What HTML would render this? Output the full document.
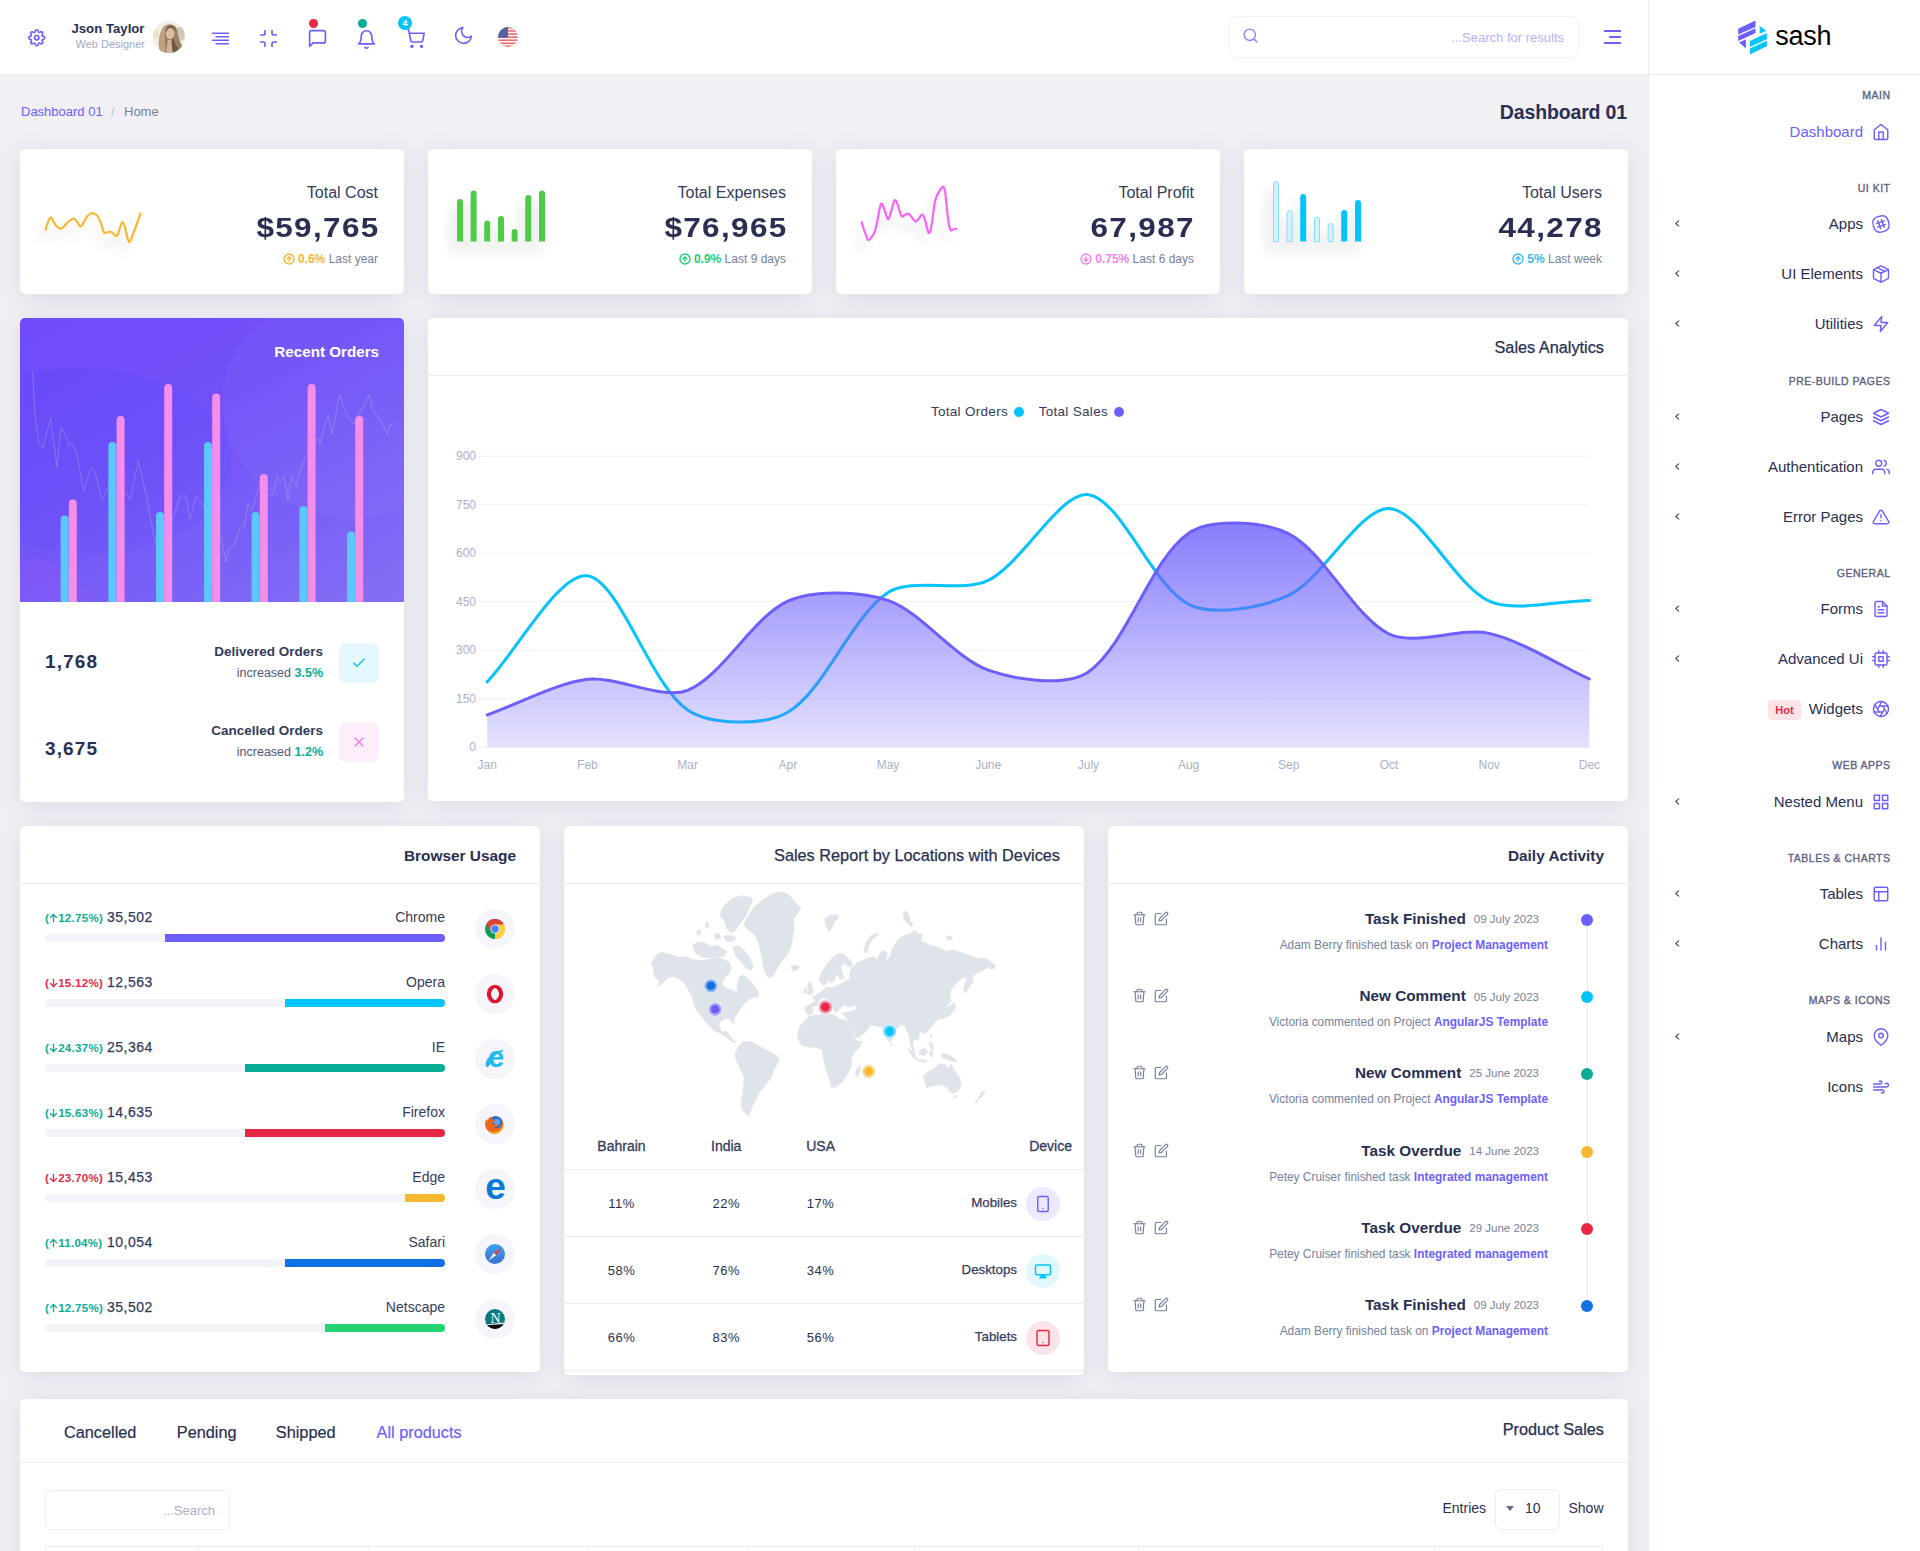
<!DOCTYPE html>
<html lang="en">
<head>
<meta charset="utf-8">
<title>Sash – Dashboard 01</title>
<style>
*{box-sizing:border-box;margin:0;padding:0}
html,body{width:1920px;height:1551px;overflow:hidden}
body{background:#f0f0f5;font-family:"Liberation Sans",sans-serif;color:#282f53;position:relative;font-size:14px}
.abs{position:absolute}
.t{position:absolute;white-space:nowrap;line-height:1}
.r{text-align:right}
svg{display:block;overflow:visible}
.ic{position:absolute;fill:none;stroke:#6c5ffc;stroke-width:2;stroke-linecap:round;stroke-linejoin:round}
/* header */
#hdr{position:absolute;left:0;top:0;width:1648px;height:75px;background:#fff;border-bottom:1px solid #e9edf4}
/* sidebar */
#side{position:absolute;left:1648px;top:0;width:272px;height:1551px;background:#fff;border-left:1px solid #e9edf4}
#side .logo{position:absolute;left:0;top:0;width:271px;height:75px;border-bottom:1px solid #e9edf4}
.cat{position:absolute;right:30px;font-size:10.500px;font-weight:normal;-webkit-text-stroke:.350px #5a5f80;letter-spacing:.500px;margin-right:-.500px;color:#5a5f80;white-space:nowrap;line-height:1}
.mi{position:absolute;right:57px;font-size:15px;color:#282f53;white-space:nowrap;line-height:1}
.chev{position:absolute;left:25.500px;width:4.500px;height:7px;margin-top:1px;fill:none;stroke:#3f4865;stroke-width:1.400;stroke-linecap:round;stroke-linejoin:round}
/* cards */
.card{position:absolute;background:#fff;border-radius:5px;box-shadow:0 4px 25px 0 rgba(110,110,150,.16)}
.ch{position:absolute;left:0;right:0;top:0;height:58px;border-bottom:1px solid #e9edf4}
.ct{position:absolute;right:24px;top:21.500px;font-size:15.400px;font-weight:bold;color:#282f53;white-space:nowrap;line-height:1}
.st-t{font-size:16px;color:#343b5c;margin-top:1.500px}
.st-v{font-size:28px;font-weight:bold;color:#282f53;letter-spacing:1.200px;margin-right:-1.200px;margin-top:-1px;transform:scaleX(1.124);transform-origin:right center}
.st-n{font-size:12px;color:#74829c}
.ro-v{font-size:19px;font-weight:bold;color:#282f53;letter-spacing:1.100px;margin-top:1px}
.ro-l{font-size:13.500px;font-weight:bold;color:#343b5c;margin-top:.700px}
.ro-s{font-size:12.5px;color:#4f5875}
.ro-s b{color:#09ad95}
.med{font-weight:normal;-webkit-text-stroke:.250px #282f53;font-size:16.300px !important;margin-top:-1px}
.bu-p{font-size:11.500px;font-weight:bold;letter-spacing:.300px;margin-top:.500px}
.bu-v{font-size:14px;margin-top:-1px;color:#343b5c;letter-spacing:.500px;-webkit-text-stroke:.25px #343b5c}
.bu-n{font-size:14px;color:#343b5c;margin-top:-1px}
.th{font-size:14px;color:#343b5c;-webkit-text-stroke:.3px #343b5c}
.td{font-size:13px;color:#282f53;letter-spacing:.5px}
.tn{margin-top:.800px;font-size:13.300px;color:#343b5c;-webkit-text-stroke:.25px #343b5c}
.da-t{font-size:15.300px;font-weight:bold;color:#282f53;position:relative;top:1px}
.da-d{font-size:11.500px;color:#74829c;margin-left:8px;position:relative;top:.500px}
.da-s{font-size:11.900px;color:#74829c;margin-top:1.800px}
.da-s b{color:#6c5ffc}
</style>
</head>
<body>

<!-- ================= HEADER ================= -->
<div id="hdr">
  <!-- settings gear -->
  <svg class="ic" style="left:28px;top:28.700px;width:17.500px;height:17.500px;stroke-width:2.200" viewBox="0 0 24 24"><circle cx="12" cy="12" r="3"/><path d="M19.4 15a1.65 1.65 0 0 0 .33 1.82l.06.06a2 2 0 0 1 0 2.83 2 2 0 0 1-2.83 0l-.06-.06a1.65 1.65 0 0 0-1.82-.33 1.65 1.65 0 0 0-1 1.51V21a2 2 0 0 1-2 2 2 2 0 0 1-2-2v-.09A1.65 1.65 0 0 0 9 19.4a1.65 1.65 0 0 0-1.82.33l-.06.06a2 2 0 0 1-2.83 0 2 2 0 0 1 0-2.83l.06-.06a1.65 1.65 0 0 0 .33-1.82 1.65 1.65 0 0 0-1.51-1H3a2 2 0 0 1-2-2 2 2 0 0 1 2-2h.09A1.65 1.65 0 0 0 4.6 9a1.65 1.65 0 0 0-.33-1.82l-.06-.06a2 2 0 0 1 0-2.83 2 2 0 0 1 2.83 0l.06.06a1.65 1.65 0 0 0 1.82.33H9a1.65 1.65 0 0 0 1-1.51V3a2 2 0 0 1 2-2 2 2 0 0 1 2 2v.09a1.65 1.65 0 0 0 1 1.51 1.65 1.65 0 0 0 1.82-.33l.06-.06a2 2 0 0 1 2.83 0 2 2 0 0 1 0 2.83l-.06.06a1.65 1.65 0 0 0-.33 1.82V9a1.65 1.65 0 0 0 1.51 1H21a2 2 0 0 1 2 2 2 2 0 0 1-2 2h-.09a1.65 1.65 0 0 0-1.51 1z"/></svg>
  <!-- user -->
  <div class="t r" style="left:40px;width:104.500px;top:21.500px;font-size:13.200px;font-weight:bold;color:#282f53">Json Taylor</div>
  <div class="t r" style="left:40px;width:105px;top:39px;font-size:11px;color:#a1a9c0">Web Designer</div>
  <div class="abs" id="avatar" style="left:153px;top:21px;width:32px;height:32px;border-radius:50%;overflow:hidden;background:#f2eee6">
    <svg width="32" height="32" viewBox="0 0 32 32"><rect width="32" height="32" fill="#f2eee6"/><ellipse cx="27" cy="13" rx="5" ry="7" fill="#cfc7b6"/><ellipse cx="2" cy="13" rx="4" ry="5" fill="#dfe5b5" opacity=".7"/><path d="M9 32C5 28 5 20 7.500 12 9 6 13 3.500 17 3.500c4.500 0 7 3 7.500 7 .5 4 1.500 9 4.500 14 1 2 0 5-2 7.500z" fill="#9a8065"/><path d="M9 32C5 28 5 20 7.500 12 9 6 12 4 14 4c-2 4-2.500 10-2 16 .3 4 .5 8 0 12z" fill="#bda280"/><path d="M13 32c.5-5 1.500-9 2-13h4.500c0 4 1 8 3 13z" fill="#d2b29b"/><ellipse cx="17.200" cy="12.500" rx="4.300" ry="5.800" fill="#dcbca5"/><path d="M12.500 12c0-5 2.500-7.500 5.500-7.500 2.500 0 4.500 2 4.500 6-1.500-2-3-3.500-5-3.500-2 0-3.500 2-5 5z" fill="#7d6450"/><path d="M20 17c1.500 3 2 7 5 10 1 2-1 4-2 5h-3c-1-4-1.500-9-1.500-12z" fill="#6f5846"/></svg>
  </div>
  <!-- align-right -->
  <svg class="ic" style="left:209.500px;top:28.400px;width:21px;height:21px;stroke-width:1.900" viewBox="0 0 24 24"><line x1="21" y1="10" x2="7" y2="10"/><line x1="21" y1="6" x2="3" y2="6"/><line x1="21" y1="14" x2="3" y2="14"/><line x1="21" y1="18" x2="7" y2="18"/></svg>
  <!-- minimize -->
  <svg class="ic" style="left:258px;top:28.400px;width:21px;height:21px;stroke-width:1.900" viewBox="0 0 24 24"><path d="M8 3v3a2 2 0 0 1-2 2H3m18 0h-3a2 2 0 0 1-2-2V3m0 18v-3a2 2 0 0 1 2-2h3M3 16h3a2 2 0 0 1 2 2v3"/></svg>
  <!-- message -->
  <svg class="ic" style="left:306.800px;top:28.300px;width:21px;height:21px;stroke-width:1.900" viewBox="0 0 24 24"><path d="M21 15a2 2 0 0 1-2 2H7l-4 4V5a2 2 0 0 1 2-2h14a2 2 0 0 1 2 2z"/></svg>
  <div class="abs" style="left:309px;top:19px;width:9px;height:9px;border-radius:50%;background:#e82646"></div>
  <!-- bell -->
  <svg class="ic" style="left:355.500px;top:28.500px;width:21px;height:21px;stroke-width:1.900" viewBox="0 0 24 24"><path d="M18 8A6 6 0 0 0 6 8c0 7-3 9-3 9h18s-3-2-3-9"/><path d="M13.730 21a2 2 0 0 1-3.460 0"/></svg>
  <div class="abs" style="left:358px;top:19px;width:9px;height:9px;border-radius:50%;background:#09ad95"></div>
  <!-- cart -->
  <svg class="ic" style="left:403.500px;top:28px;width:21px;height:21px;stroke-width:1.900" viewBox="0 0 24 24"><circle cx="9" cy="21" r="1"/><circle cx="20" cy="21" r="1"/><path d="M1 1h4l2.680 13.390a2 2 0 0 0 2 1.610h9.720a2 2 0 0 0 2-1.610L23 6H6"/></svg>
  <div class="abs" style="left:398px;top:16px;width:14px;height:14px;border-radius:50%;background:#05c3fb;color:#fff;font-size:9px;font-weight:bold;text-align:center;line-height:14px">4</div>
  <!-- moon -->
  <svg class="ic" style="left:453.300px;top:25px;width:21px;height:21px;stroke-width:1.900" viewBox="0 0 24 24"><path d="M21 12.790A9 9 0 1 1 11.210 3 7 7 0 0 0 21 12.790z"/></svg>
  <!-- flag -->
  <div class="abs" style="left:498px;top:27px;width:20px;height:20px;border-radius:50%;overflow:hidden">
    <svg width="20" height="20" viewBox="0 0 20 20"><rect width="20" height="20" fill="#fff"/><g fill="#f2666d"><rect y="0" width="20" height="1.6"/><rect y="3.100" width="20" height="1.600"/><rect y="6.200" width="20" height="1.600"/><rect y="9.300" width="20" height="1.600"/><rect y="12.400" width="20" height="1.600"/><rect y="15.500" width="20" height="1.600"/><rect y="18.500" width="20" height="1.600"/></g><rect width="10" height="10.800" fill="#5563a4"/></svg>
  </div>
  <!-- search -->
  <div class="abs" style="left:1229px;top:16px;width:350px;height:42px;border:1px solid #eef1fa;border-radius:7px;background:#fff"></div>
  <svg class="ic" style="left:1241.900px;top:26.900px;width:17px;height:17px;stroke:#8f86fb;stroke-width:2" viewBox="0 0 24 24"><circle cx="11" cy="11" r="8"/><line x1="21" y1="21" x2="16.650" y2="16.650"/></svg>
  <div class="t r" style="left:1364px;width:200px;top:31px;font-size:13px;color:#b5b0fa">...Search for results</div>
  <!-- hamburger -->
  <div class="abs" style="left:1604px;top:30px;width:17px;height:2px;background:#6c5ffc"></div>
  <div class="abs" style="left:1609px;top:36px;width:12px;height:2px;background:#6c5ffc"></div>
  <div class="abs" style="left:1604px;top:42px;width:17px;height:2px;background:#6c5ffc"></div>
</div>

<!-- ================= SIDEBAR ================= -->
<div id="side">
  <div class="logo">
    <svg class="abs" style="left:88px;top:19px" width="32" height="38" viewBox="0 0 32 38"><g fill="#6c5ffc"><polygon points="1.200,9.700 18.500,1.500 18.500,7.900 1.200,15.500"/><polygon points="1.200,17 18.500,9.200 18.500,14.100 8.900,18.400 1.200,22.100"/><polygon points="2.100,23.600 8.900,20.300 8.900,29.500"/></g><g fill="#05c3fb"><polygon points="22.700,7.100 29.400,11.700 22.700,14.800"/><polygon points="12.900,21.900 29.800,14.100 29.800,20.300 12.900,28.100"/><polygon points="12.900,29.500 29.800,21.700 29.800,27.200 12.900,35.600"/></g></svg>
    <div class="t" style="left:126.300px;top:22.500px;font-size:27px;letter-spacing:-.300px;color:#000">sash</div>
  </div>
  <div class="cat" style="top:90px">MAIN</div>
  <div class="mi" style="top:124px;color:#6c5ffc">Dashboard</div>
  <svg class="ic" style="left:222.500px;top:122.5px;width:18px;height:18px;stroke-width:1.9" viewBox="0 0 24 24"><path d="M3 9l9-7 9 7v11a2 2 0 0 1-2 2H5a2 2 0 0 1-2-2z"/><polyline points="9 22 9 12 15 12 15 22"/></svg>
  <div class="cat" style="top:183px">UI KIT</div>
  <div class="mi" style="top:216px;color:#282f53">Apps</div>
  <svg class="ic" style="left:222.500px;top:214.5px;width:18px;height:18px;stroke-width:1.9" viewBox="0 0 24 24"><path d="M22.080 9C19.810 1.410 16.540-.350 9 1.920S-.350 7.460 1.920 15 7.460 24.350 15 22.080 24.350 16.540 22.080 9z"/><line x1="12.570" y1="5.990" x2="16.150" y2="16.390"/><line x1="7.850" y1="7.610" x2="11.430" y2="18.010"/><line x1="16.390" y1="7.850" x2="5.990" y2="11.430"/><line x1="18.010" y1="12.570" x2="7.610" y2="16.150"/></svg>
  <svg class="chev" style="top:219px" viewBox="0 0 6 8"><polyline points="5,0.500 1,4 5,7.500"/></svg>
  <div class="mi" style="top:266px;color:#282f53">UI Elements</div>
  <svg class="ic" style="left:222.500px;top:264.5px;width:18px;height:18px;stroke-width:1.9" viewBox="0 0 24 24"><path d="M12.890 1.450l8 4A2 2 0 0 1 22 7.240v9.530a2 2 0 0 1-1.110 1.790l-8 4a2 2 0 0 1-1.790 0l-8-4a2 2 0 0 1-1.100-1.800V7.240a2 2 0 0 1 1.110-1.790l8-4a2 2 0 0 1 1.780 0z"/><polyline points="2.320 6.160 12 11 21.680 6.160"/><line x1="12" y1="22.760" x2="12" y2="11"/><line x1="7" y1="3.500" x2="17" y2="8.500"/></svg>
  <svg class="chev" style="top:269px" viewBox="0 0 6 8"><polyline points="5,0.500 1,4 5,7.500"/></svg>
  <div class="mi" style="top:316px;color:#282f53">Utilities</div>
  <svg class="ic" style="left:222.500px;top:314.5px;width:18px;height:18px;stroke-width:1.9" viewBox="0 0 24 24"><polygon points="13 2 3 14 12 14 11 22 21 10 12 10 13 2"/></svg>
  <svg class="chev" style="top:319px" viewBox="0 0 6 8"><polyline points="5,0.500 1,4 5,7.500"/></svg>
  <div class="cat" style="top:376px">PRE-BUILD PAGES</div>
  <div class="mi" style="top:409px;color:#282f53">Pages</div>
  <svg class="ic" style="left:222.500px;top:407.5px;width:18px;height:18px;stroke-width:1.9" viewBox="0 0 24 24"><polygon points="12 2 2 7 12 12 22 7 12 2"/><polyline points="2 17 12 22 22 17"/><polyline points="2 12 12 17 22 12"/></svg>
  <svg class="chev" style="top:412px" viewBox="0 0 6 8"><polyline points="5,0.500 1,4 5,7.500"/></svg>
  <div class="mi" style="top:459px;color:#282f53">Authentication</div>
  <svg class="ic" style="left:222.500px;top:457.5px;width:18px;height:18px;stroke-width:1.9" viewBox="0 0 24 24"><path d="M17 21v-2a4 4 0 0 0-4-4H5a4 4 0 0 0-4 4v2"/><circle cx="9" cy="7" r="4"/><path d="M23 21v-2a4 4 0 0 0-3-3.870"/><path d="M16 3.130a4 4 0 0 1 0 7.750"/></svg>
  <svg class="chev" style="top:462px" viewBox="0 0 6 8"><polyline points="5,0.500 1,4 5,7.500"/></svg>
  <div class="mi" style="top:509px;color:#282f53">Error Pages</div>
  <svg class="ic" style="left:222.500px;top:507.5px;width:18px;height:18px;stroke-width:1.9" viewBox="0 0 24 24"><path d="M10.290 3.860L1.820 18a2 2 0 0 0 1.710 3h16.940a2 2 0 0 0 1.710-3L13.710 3.860a2 2 0 0 0-3.420 0z"/><line x1="12" y1="9" x2="12" y2="13"/><line x1="12" y1="17" x2="12" y2="17"/></svg>
  <svg class="chev" style="top:512px" viewBox="0 0 6 8"><polyline points="5,0.500 1,4 5,7.500"/></svg>
  <div class="cat" style="top:568px">GENERAL</div>
  <div class="mi" style="top:601px;color:#282f53">Forms</div>
  <svg class="ic" style="left:222.500px;top:599.5px;width:18px;height:18px;stroke-width:1.9" viewBox="0 0 24 24"><path d="M14 2H6a2 2 0 0 0-2 2v16a2 2 0 0 0 2 2h12a2 2 0 0 0 2-2V8z"/><polyline points="14 2 14 8 20 8"/><line x1="16" y1="13" x2="8" y2="13"/><line x1="16" y1="17" x2="8" y2="17"/><polyline points="10 9 9 9 8 9"/></svg>
  <svg class="chev" style="top:604px" viewBox="0 0 6 8"><polyline points="5,0.500 1,4 5,7.500"/></svg>
  <div class="mi" style="top:651px;color:#282f53">Advanced Ui</div>
  <svg class="ic" style="left:222.500px;top:649.5px;width:18px;height:18px;stroke-width:1.9" viewBox="0 0 24 24"><rect x="4" y="4" width="16" height="16" rx="2" ry="2"/><rect x="9" y="9" width="6" height="6"/><line x1="9" y1="1" x2="9" y2="4"/><line x1="15" y1="1" x2="15" y2="4"/><line x1="9" y1="20" x2="9" y2="23"/><line x1="15" y1="20" x2="15" y2="23"/><line x1="20" y1="9" x2="23" y2="9"/><line x1="20" y1="14" x2="23" y2="14"/><line x1="1" y1="9" x2="4" y2="9"/><line x1="1" y1="14" x2="4" y2="14"/></svg>
  <svg class="chev" style="top:654px" viewBox="0 0 6 8"><polyline points="5,0.500 1,4 5,7.500"/></svg>
  <div class="mi" style="top:701px;color:#282f53">Widgets</div>
  <svg class="ic" style="left:222.500px;top:699.5px;width:18px;height:18px;stroke-width:1.9" viewBox="0 0 24 24"><circle cx="12" cy="12" r="10"/><line x1="14.310" y1="8" x2="20.050" y2="17.940"/><line x1="9.690" y1="8" x2="21.170" y2="8"/><line x1="7.380" y1="12" x2="13.120" y2="2.060"/><line x1="9.690" y1="16" x2="3.950" y2="6.060"/><line x1="14.310" y1="16" x2="2.830" y2="16"/><line x1="16.620" y1="12" x2="10.880" y2="21.940"/></svg>
  <div class="abs" style="left:119px;top:700px;width:33px;height:20px;border-radius:4px;background:#fce3e8;color:#e82646;font-size:11px;font-weight:bold;text-align:center;line-height:20px">Hot</div>
  <div class="cat" style="top:760px">WEB APPS</div>
  <div class="mi" style="top:794px;color:#282f53">Nested Menu</div>
  <svg class="ic" style="left:222.500px;top:792.5px;width:18px;height:18px;stroke-width:1.9" viewBox="0 0 24 24"><rect x="3" y="3" width="7" height="7"/><rect x="14" y="3" width="7" height="7"/><rect x="14" y="14" width="7" height="7"/><rect x="3" y="14" width="7" height="7"/></svg>
  <svg class="chev" style="top:797px" viewBox="0 0 6 8"><polyline points="5,0.500 1,4 5,7.500"/></svg>
  <div class="cat" style="top:853px">TABLES &amp; CHARTS</div>
  <div class="mi" style="top:886px;color:#282f53">Tables</div>
  <svg class="ic" style="left:222.500px;top:884.5px;width:18px;height:18px;stroke-width:1.9" viewBox="0 0 24 24"><rect x="3" y="3" width="18" height="18" rx="2" ry="2"/><line x1="3" y1="9" x2="21" y2="9"/><line x1="9" y1="21" x2="9" y2="9"/></svg>
  <svg class="chev" style="top:889px" viewBox="0 0 6 8"><polyline points="5,0.500 1,4 5,7.500"/></svg>
  <div class="mi" style="top:936px;color:#282f53">Charts</div>
  <svg class="ic" style="left:222.500px;top:934.5px;width:18px;height:18px;stroke-width:1.9" viewBox="0 0 24 24"><line x1="18" y1="20" x2="18" y2="10"/><line x1="12" y1="20" x2="12" y2="4"/><line x1="6" y1="20" x2="6" y2="14"/></svg>
  <svg class="chev" style="top:939px" viewBox="0 0 6 8"><polyline points="5,0.500 1,4 5,7.500"/></svg>
  <div class="cat" style="top:995px">MAPS &amp; ICONS</div>
  <div class="mi" style="top:1029px;color:#282f53">Maps</div>
  <svg class="ic" style="left:222.500px;top:1027.5px;width:18px;height:18px;stroke-width:1.9" viewBox="0 0 24 24"><path d="M21 10c0 7-9 13-9 13s-9-6-9-13a9 9 0 0 1 18 0z"/><circle cx="12" cy="10" r="3"/></svg>
  <svg class="chev" style="top:1032px" viewBox="0 0 6 8"><polyline points="5,0.500 1,4 5,7.500"/></svg>
  <div class="mi" style="top:1079px;color:#282f53">Icons</div>
  <svg class="ic" style="left:222.500px;top:1077.5px;width:18px;height:18px;stroke-width:1.9" viewBox="0 0 24 24"><path d="M9.590 4.590A2 2 0 1 1 11 8H2m10.590 11.410A2 2 0 1 0 14 16H2m15.730-8.270A2.500 2.500 0 1 1 19.500 12H2"/></svg>
</div>

<!-- ================= PAGE HEADER ================= -->
<div id="pghdr">
  <div class="t" style="left:21px;top:105px;font-size:13px;color:#6c5ffc">Dashboard 01</div>
  <div class="t" style="left:111px;top:105px;font-size:13px;color:#b6bfd4">/</div>
  <div class="t" style="left:124px;top:105px;font-size:13px;color:#74829c">Home</div>
  <div class="t r" style="left:1400px;width:227px;top:103px;font-size:19.500px;letter-spacing:-.150px;font-weight:bold;color:#282f53">Dashboard 01</div>
</div>

<!-- ================= ROW 1 ================= -->
<div class="card" id="c1" style="left:20px;top:149px;width:384px;height:145px">
  <div class="t r st-t" style="right:26px;top:34px">Total Cost</div>
  <div class="t r st-v" style="right:26px;top:66px">$59,765</div>
  <div class="t r st-n" style="right:26px;top:104px"><svg class="ic" style="position:static;display:inline-block;vertical-align:-2px;width:12px;height:12px;stroke:#f7b731;stroke-width:2.700;margin-right:3px" viewBox="0 0 24 24"><circle cx="12" cy="12" r="10"/><g><polyline points="16 12 12 8 8 12"/><line x1="12" y1="16" x2="12" y2="8"/></g></svg><span style="color:#f7b731;font-weight:bold">0.6%</span> Last year</div>
  <svg class="abs" style="left:0;top:0;filter:drop-shadow(-6px 10px 5px rgba(0,0,0,.11))" width="150" height="145"><path d="M25.7,80.7C26.2,79.0 26.3,77.6 27.6,74.4C28.9,71.2 29.0,69.0 30.6,68.7C32.3,68.3 32.0,70.7 33.7,73.1C35.4,75.5 34.9,76.0 37.1,77.7C39.2,79.3 39.3,80.2 41.8,79.3C44.3,78.4 44.2,76.6 46.6,74.4C48.9,72.2 48.6,72.3 50.6,71.1C52.6,69.8 52.2,69.3 54.0,69.8C55.8,70.4 55.7,71.1 57.4,73.1C59.1,75.1 58.8,77.1 60.4,77.3C62.1,77.5 61.8,76.3 63.5,73.8C65.2,71.2 64.9,70.1 66.9,67.7C68.9,65.2 69.4,65.5 70.9,64.6C72.5,63.7 71.0,63.7 72.6,64.3C74.3,64.8 75.0,64.3 77.0,66.6C79.1,69.0 78.8,69.2 80.4,73.1C82.0,77.0 82.0,78.3 83.1,81.2C84.2,84.1 83.2,83.4 84.5,83.9C85.7,84.4 86.2,83.4 87.9,83.1C89.5,82.8 89.1,82.3 90.6,82.7C92.0,83.1 91.8,83.5 93.3,84.6C94.7,85.7 94.7,87.0 96.0,87.0C97.2,87.0 96.8,87.4 98.0,84.6C99.3,81.8 99.5,79.4 100.7,76.5C102.0,73.5 101.7,73.1 102.8,73.4C103.8,73.8 103.7,74.3 104.8,77.8C105.9,81.3 105.8,82.8 106.8,86.6C107.8,90.4 107.6,90.6 108.5,92.0C109.4,93.5 109.0,93.8 110.2,92.0C111.4,90.2 111.1,90.0 112.9,85.3C114.7,80.6 115.0,80.0 117.0,74.4C119.0,68.8 119.6,67.0 120.5,64.3" fill="none" stroke="#f7b731" stroke-width="2.2" stroke-linecap="round" stroke-linejoin="round"/></svg>
</div>
<div class="card" id="c2" style="left:428px;top:149px;width:384px;height:145px">
  <div class="t r st-t" style="right:26px;top:34px">Total Expenses</div>
  <div class="t r st-v" style="right:26px;top:66px">$76,965</div>
  <div class="t r st-n" style="right:26px;top:104px"><svg class="ic" style="position:static;display:inline-block;vertical-align:-2px;width:12px;height:12px;stroke:#1fcd7a;stroke-width:2.700;margin-right:3px" viewBox="0 0 24 24"><circle cx="12" cy="12" r="10"/><g><polyline points="16 12 12 8 8 12"/><line x1="12" y1="16" x2="12" y2="8"/></g></svg><span style="color:#1fcd7a;font-weight:bold">0.9%</span> Last 9 days</div>
  <svg class="abs" style="left:0;top:0;filter:drop-shadow(-5px 10px 6px rgba(0,0,0,.12))" width="150" height="145"><path d="M29.0,92.6V53.0a3,3 0 0 1 6,0V92.6z" fill="#4ecc48"/><path d="M42.6,92.6V44.6a3,3 0 0 1 6,0V92.6z" fill="#4ecc48"/><path d="M56.2,92.6V74.6a3,3 0 0 1 6,0V92.6z" fill="#4ecc48"/><path d="M70.0,92.6V70.0a3,3 0 0 1 6,0V92.6z" fill="#4ecc48"/><path d="M83.6,92.6V83.0a3,3 0 0 1 6,0V92.6z" fill="#4ecc48"/><path d="M97.2,92.6V49.0a3,3 0 0 1 6,0V92.6z" fill="#4ecc48"/><path d="M111.0,92.6V44.6a3,3 0 0 1 6,0V92.6z" fill="#4ecc48"/></svg>
</div>
<div class="card" id="c3" style="left:836px;top:149px;width:384px;height:145px">
  <div class="t r st-t" style="right:26px;top:34px">Total Profit</div>
  <div class="t r st-v" style="right:26px;top:66px">67,987</div>
  <div class="t r st-n" style="right:26px;top:104px"><svg class="ic" style="position:static;display:inline-block;vertical-align:-2px;width:12px;height:12px;stroke:#f77ff0;stroke-width:2.700;margin-right:3px" viewBox="0 0 24 24"><circle cx="12" cy="12" r="10"/><g transform="rotate(180 12 12)"><polyline points="16 12 12 8 8 12"/><line x1="12" y1="16" x2="12" y2="8"/></g></svg><span style="color:#f77ff0;font-weight:bold">0.75%</span> Last 6 days</div>
  <svg class="abs" style="left:0;top:0;filter:drop-shadow(-6px 10px 5px rgba(0,0,0,.11))" width="150" height="145"><path d="M25.7,73.1C26.2,74.8 26.4,75.8 27.6,79.5C28.8,83.2 29.0,83.9 30.3,86.9C31.6,90.0 30.9,90.6 32.3,90.9C33.8,91.1 33.9,90.4 35.7,87.9C37.5,85.5 37.5,86.5 39.1,81.5C40.7,76.6 40.6,75.5 41.8,69.3C43.1,63.2 42.8,62.4 43.9,58.5C44.9,54.6 44.6,54.1 45.9,54.8C47.1,55.5 47.3,57.9 48.6,61.2C49.9,64.5 49.6,65.0 50.6,67.3C51.7,69.6 51.4,70.8 52.5,69.9C53.6,69.0 53.4,68.0 54.7,63.9C56.0,59.8 56.2,57.9 57.4,54.4C58.6,51.0 58.2,50.9 59.3,51.1C60.4,51.2 60.2,51.7 61.5,55.1C62.8,58.5 62.9,60.6 64.2,63.9C65.4,67.2 64.9,66.9 66.2,67.4C67.5,68.0 67.3,66.6 68.9,65.9C70.5,65.3 70.7,64.6 72.3,64.9C73.9,65.3 73.6,65.8 75.0,67.3C76.4,68.8 76.4,69.3 77.7,70.7C79.1,72.0 78.6,72.7 80.1,72.4C81.5,72.0 81.5,71.1 83.1,69.3C84.7,67.5 84.7,65.6 86.2,65.6C87.6,65.6 87.2,65.6 88.5,69.3C89.9,73.0 90.0,75.6 91.2,79.5C92.5,83.4 92.2,84.4 93.3,83.9C94.4,83.3 94.0,84.2 95.3,77.5C96.6,70.7 96.8,66.1 98.0,58.5C99.3,50.9 98.6,53.4 100.0,49.0C101.5,44.7 101.6,45.2 103.4,42.2C105.2,39.3 105.4,38.0 106.8,37.8C108.3,37.7 107.9,37.5 108.8,41.6C109.8,45.6 109.3,45.3 110.2,53.1C111.1,60.8 111.2,63.5 112.2,70.7C113.3,77.9 113.0,77.5 114.3,80.2C115.5,82.8 115.3,80.6 117.0,80.5C118.6,80.4 119.5,80.0 120.4,79.8" fill="none" stroke="#f862f8" stroke-width="2.2" stroke-linecap="round" stroke-linejoin="round"/></svg>
</div>
<div class="card" id="c4" style="left:1244px;top:149px;width:384px;height:145px">
  <div class="t r st-t" style="right:26px;top:34px">Total Users</div>
  <div class="t r st-v" style="right:26px;top:66px">44,278</div>
  <div class="t r st-n" style="right:26px;top:104px"><svg class="ic" style="position:static;display:inline-block;vertical-align:-2px;width:12px;height:12px;stroke:#3cb9f2;stroke-width:2.700;margin-right:3px" viewBox="0 0 24 24"><circle cx="12" cy="12" r="10"/><g><polyline points="16 12 12 8 8 12"/><line x1="12" y1="16" x2="12" y2="8"/></g></svg><span style="color:#3cb9f2;font-weight:bold">5%</span> Last week</div>
  <svg class="abs" style="left:0;top:0;filter:drop-shadow(-5px 10px 6px rgba(0,0,0,.12))" width="150" height="145"><path d="M29.5,92.6V35.0a2.5,2.5 0 0 1 5,0V92.6z" fill="#d2f3fe" stroke="#86defc" stroke-width="1"/><path d="M43.1,92.6V64.0a2.5,2.5 0 0 1 5,0V92.6z" fill="#d2f3fe" stroke="#86defc" stroke-width="1"/><path d="M56.2,92.6V48.0a3,3 0 0 1 6,0V92.6z" fill="#05c3fb"/><path d="M70.5,92.6V70.6a2.5,2.5 0 0 1 5,0V92.6z" fill="#d2f3fe" stroke="#86defc" stroke-width="1"/><path d="M84.1,92.6V77.0a2.5,2.5 0 0 1 5,0V92.6z" fill="#d2f3fe" stroke="#86defc" stroke-width="1"/><path d="M97.2,92.6V64.0a3,3 0 0 1 6,0V92.6z" fill="#05c3fb"/><path d="M111.0,92.6V54.0a3,3 0 0 1 6,0V92.6z" fill="#05c3fb"/></svg>
</div>

<!-- ================= ROW 2 ================= -->
<div class="card" id="c5" style="left:20px;top:318px;width:384px;height:484px">
  <div class="abs" style="left:0;top:0;width:384px;height:284px;border-radius:5px 5px 0 0;overflow:hidden;background:linear-gradient(152deg,#704af9 0%,#7150f8 38%,#7a61f6 72%,#866ff5 100%)">
    <div class="abs" style="left:202px;top:-30px;width:260px;height:230px;border-radius:50%;background:rgba(255,255,255,.03)"></div>
    <div class="abs" style="left:-70px;top:50px;width:280px;height:185px;border-radius:46% 54% 50% 50%;background:rgba(70,70,255,.11)"></div>
    <div class="abs" style="left:-60px;top:240px;width:130px;height:90px;border-radius:50%;background:rgba(170,90,240,.15)"></div>
    <svg class="abs" style="left:0;top:0" width="384" height="284"><path d="M12.6,53.0 L15.0,98.0 L19.0,124.0 L23.0,130.0 L30.6,100.0 L37.0,149.0 L41.0,110.0 L46.0,118.0 L49.0,128.0 L52.0,125.0 L57.0,138.0 L64.0,173.0 L71.0,149.0 L75.0,154.0 L82.0,182.0 L88.0,170.0 L92.0,150.0 L97.0,160.0 L101.0,176.0 L106.0,174.0 L110.0,181.0 L118.4,143.0 L126.0,176.0 L136.0,228.0 L140.0,215.0 L146.0,200.0 L150.0,205.0 L154.0,197.0 L160.0,178.0 L166.0,178.0 L170.0,201.0 L176.0,178.0 L183.0,186.0 L188.0,200.0 L195.0,205.0 L201.0,219.0 L206.0,244.0 L209.0,230.0 L214.0,228.0 L220.0,210.0 L224.0,210.0 L228.0,186.0 L232.0,192.0 L240.0,166.0 L244.0,177.0 L249.0,177.0 L253.0,177.0 L257.0,159.0 L260.0,163.0 L264.0,159.0 L268.0,182.0 L272.0,159.0 L276.0,168.0 L280.0,152.0 L286.0,138.0 L292.0,128.0 L298.0,120.0 L300.0,126.0 L308.0,97.0 L312.0,116.0 L319.4,77.0 L328.0,99.0 L334.0,106.0 L339.0,96.0 L344.0,88.0 L349.0,77.0 L353.0,92.0 L362.0,104.0 L367.0,116.0 L370.0,107.0 L374.0,106.0" fill="none" stroke="rgba(255,255,255,.2)" stroke-width="1" stroke-linejoin="round"/><path d="M40.6,284V201.6a4,4 0 0 1 8,0V284z" fill="#5ac8fa"/><path d="M48.8,284V185.6a4,4 0 0 1 8,0V284z" fill="#f58ee8"/><path d="M88.4,284V128.0a4,4 0 0 1 8,0V284z" fill="#5ac8fa"/><path d="M96.6,284V102.0a4,4 0 0 1 8,0V284z" fill="#f58ee8"/><path d="M136.0,284V198.0a4,4 0 0 1 8,0V284z" fill="#5ac8fa"/><path d="M144.2,284V70.0a4,4 0 0 1 8,0V284z" fill="#f58ee8"/><path d="M184.0,284V128.0a4,4 0 0 1 8,0V284z" fill="#5ac8fa"/><path d="M192.2,284V79.6a4,4 0 0 1 8,0V284z" fill="#f58ee8"/><path d="M231.6,284V198.0a4,4 0 0 1 8,0V284z" fill="#5ac8fa"/><path d="M239.8,284V160.0a4,4 0 0 1 8,0V284z" fill="#f58ee8"/><path d="M279.4,284V192.0a4,4 0 0 1 8,0V284z" fill="#5ac8fa"/><path d="M287.6,284V70.0a4,4 0 0 1 8,0V284z" fill="#f58ee8"/><path d="M327.0,284V217.6a4,4 0 0 1 8,0V284z" fill="#5ac8fa"/><path d="M335.2,284V102.0a4,4 0 0 1 8,0V284z" fill="#f58ee8"/></svg>
    <div class="t r" style="right:25px;top:26.200px;font-size:15.200px;font-weight:bold;color:#fff">Recent Orders</div>
  </div>
  <div class="t ro-v" style="left:25px;top:333px">1,768</div>
  <div class="t r ro-l" style="right:81px;top:326px">Delivered Orders</div>
  <div class="t r ro-s" style="right:81px;top:349px">increased <b>3.5%</b></div>
  <div class="abs" style="left:319px;top:325px;width:40px;height:40px;border-radius:7px;background:#e6f8ff"></div>
  <svg class="ic" style="left:331px;top:337px;width:16px;height:16px;stroke:#05c3fb;stroke-width:2" viewBox="0 0 24 24"><polyline points="20 6 9 17 4 12"/></svg>
  <div class="t ro-v" style="left:25px;top:420px">3,675</div>
  <div class="t r ro-l" style="right:81px;top:405px">Cancelled Orders</div>
  <div class="t r ro-s" style="right:81px;top:428px">increased <b>1.2%</b></div>
  <div class="abs" style="left:319px;top:404px;width:40px;height:40px;border-radius:7px;background:#fdeefb"></div>
  <svg class="ic" style="left:331px;top:416px;width:16px;height:16px;stroke:#f27fe8;stroke-width:2" viewBox="0 0 24 24"><line x1="18" y1="6" x2="6" y2="18"/><line x1="6" y1="6" x2="18" y2="18"/></svg>
</div>
<div class="card" id="c6" style="left:428px;top:318px;width:1200px;height:483px">
  <div class="ch"><div class="ct med">Sales Analytics</div></div>
  <div class="t r" style="left:440px;width:140px;top:86.500px;font-size:13.500px;letter-spacing:.300px;margin-right:-.300px;color:#343b5c">Total Orders</div>
  <div class="abs" style="left:586px;top:89px;width:10px;height:10px;border-radius:50%;background:#05c3fb"></div>
  <div class="t r" style="left:560px;width:120px;top:86.500px;font-size:13.500px;letter-spacing:.300px;margin-right:-.300px;color:#343b5c">Total Sales</div>
  <div class="abs" style="left:686px;top:89px;width:10px;height:10px;border-radius:50%;background:#6c5ffc"></div>
  <svg class="abs" style="left:0;top:0" width="1200" height="483">
    <defs><linearGradient id="gs" gradientUnits="userSpaceOnUse" x1="0" y1="138" x2="0" y2="429"><stop offset="0" stop-color="#6c5ffc" stop-opacity="1"/><stop offset="1" stop-color="#6c5ffc" stop-opacity=".18"/></linearGradient></defs>
    <line x1="51" y1="429.2" x2="1161.4" y2="429.2" stroke="#eff0f6" stroke-width="1"/><line x1="51" y1="380.7" x2="1161.4" y2="380.7" stroke="#eff0f6" stroke-width="1"/><line x1="51" y1="332.2" x2="1161.4" y2="332.2" stroke="#eff0f6" stroke-width="1"/><line x1="51" y1="283.7" x2="1161.4" y2="283.7" stroke="#eff0f6" stroke-width="1"/><line x1="51" y1="235.2" x2="1161.4" y2="235.2" stroke="#eff0f6" stroke-width="1"/><line x1="51" y1="186.7" x2="1161.4" y2="186.7" stroke="#eff0f6" stroke-width="1"/><line x1="51" y1="138.2" x2="1161.4" y2="138.2" stroke="#eff0f6" stroke-width="1"/>
    <g font-family="Liberation Sans, sans-serif" font-size="12" fill="#a9b1c9"><text x="48" y="433.4" text-anchor="end">0</text><text x="48" y="384.9" text-anchor="end">150</text><text x="48" y="336.4" text-anchor="end">300</text><text x="48" y="287.9" text-anchor="end">450</text><text x="48" y="239.4" text-anchor="end">600</text><text x="48" y="190.9" text-anchor="end">750</text><text x="48" y="142.4" text-anchor="end">900</text><text x="59.2" y="451.0" text-anchor="middle">Jan</text><text x="159.4" y="451.0" text-anchor="middle">Feb</text><text x="259.6" y="451.0" text-anchor="middle">Mar</text><text x="359.8" y="451.0" text-anchor="middle">Apr</text><text x="460.0" y="451.0" text-anchor="middle">May</text><text x="560.2" y="451.0" text-anchor="middle">June</text><text x="660.4" y="451.0" text-anchor="middle">July</text><text x="760.6" y="451.0" text-anchor="middle">Aug</text><text x="860.8" y="451.0" text-anchor="middle">Sep</text><text x="961.0" y="451.0" text-anchor="middle">Oct</text><text x="1061.2" y="451.0" text-anchor="middle">Nov</text><text x="1161.4" y="451.0" text-anchor="middle">Dec</text></g>
    <path d="M59.2,363.9C89.3,332.1 131.4,253.9 159.4,257.8C191.5,262.3 222.0,366.4 259.6,392.0C282.1,407.3 336.3,408.1 359.8,394.3C396.4,372.8 423.5,298.7 460.0,274.6C483.6,259.1 534.1,275.1 560.2,262.4C594.2,245.7 632.1,173.3 660.4,176.7C692.2,180.5 724.8,268.3 760.6,286.3C784.9,298.5 834.8,289.6 860.8,277.2C895.0,260.9 931.4,189.7 961.0,190.6C991.5,191.5 1026.5,267.2 1061.2,283.1C1086.7,294.7 1131.3,282.6 1161.4,282.4" fill="none" stroke="#05c3fb" stroke-width="3" stroke-linecap="round"/>
    <path d="M59.2,396.9C89.3,386.2 128.5,365.1 159.4,361.3C188.7,357.7 233.8,382.4 259.6,372.3C293.9,358.9 325.4,298.5 359.8,283.1C385.5,271.5 432.9,273.1 460.0,282.4C493.0,293.8 527.2,340.5 560.2,352.2C587.3,361.9 638.2,369.1 660.4,353.9C698.3,327.9 722.7,241.3 760.6,215.2C782.8,199.9 835.9,203.3 860.8,215.8C896.0,233.5 925.8,298.5 961.0,316.0C985.9,328.4 1032.6,309.0 1061.2,315.4C1092.7,322.4 1131.3,347.3 1161.4,361.0L1161.4,429.2L59.2,429.2Z" fill="url(#gs)"/>
    <path d="M59.2,396.9C89.3,386.2 128.5,365.1 159.4,361.3C188.7,357.7 233.8,382.4 259.6,372.3C293.9,358.9 325.4,298.5 359.8,283.1C385.5,271.5 432.9,273.1 460.0,282.4C493.0,293.8 527.2,340.5 560.2,352.2C587.3,361.9 638.2,369.1 660.4,353.9C698.3,327.9 722.7,241.3 760.6,215.2C782.8,199.9 835.9,203.3 860.8,215.8C896.0,233.5 925.8,298.5 961.0,316.0C985.9,328.4 1032.6,309.0 1061.2,315.4C1092.7,322.4 1131.3,347.3 1161.4,361.0" fill="none" stroke="#6c5ffc" stroke-width="3" stroke-linecap="round"/>
  </svg>
</div>

<!-- ================= ROW 3 ================= -->
<div class="card" id="c7" style="left:20px;top:826px;width:520px;height:546px">
  <div class="ch"><div class="ct">Browser Usage</div></div>
  <div class="t bu-p" style="left:25px;top:86.1px;color:#09ad95">(<svg style="display:inline-block;vertical-align:-1px;width:9px;height:10px;fill:none;stroke:#09ad95;stroke-width:1.300;stroke-linecap:round;stroke-linejoin:round" viewBox="0 0 9 10"><polyline points="1.500,4.500 4.500,1.500 7.500,4.500"/><line x1="4.500" y1="1.500" x2="4.500" y2="8.500"/></svg>12.75%)</div>
  <div class="t bu-v" style="left:87px;top:84.6px">35,502</div>
  <div class="t r bu-n" style="right:95px;top:84.6px">Chrome</div>
  <div class="abs" style="left:25px;top:107.9px;width:400px;height:8px;border-radius:4px;background:#f3f3fa"><div class="abs" style="right:0;top:0;height:8px;width:70%;background:#6c5ffc;border-radius:0 4px 4px 0"></div></div>
  <div class="abs" style="left:455px;top:83.0px;width:40px;height:40px;border-radius:50%;background:#f5f5fb"><div class="abs" style="left:10px;top:10px;width:20px;height:20px"><svg width="20" height="20" viewBox="0 0 20 20"><circle cx="10" cy="10" r="10" fill="#fff"/><path d="M10 10L1.340 5A10 10 0 0 1 18.660 5z" fill="#db4437"/><path d="M10 10L18.660 5A10 10 0 0 1 10 20z" fill="#ffcd40"/><path d="M10 10L10 20A10 10 0 0 1 1.340 5z" fill="#0f9d58"/><path d="M10 5.500H18.900A10 10 0 0 0 1.340 5L5.800 12.500z" fill="#db4437"/><path d="M14 12.400L10 20A10 10 0 0 0 18.900 5.500H10z" fill="#ffcd40"/><circle cx="10" cy="10" r="4.600" fill="#f1f1f1"/><circle cx="10" cy="10" r="3.700" fill="#4285f4"/></svg></div></div>
  <div class="t bu-p" style="left:25px;top:151.1px;color:#e82646">(<svg style="display:inline-block;vertical-align:-1px;width:9px;height:10px;fill:none;stroke:#e82646;stroke-width:1.300;stroke-linecap:round;stroke-linejoin:round" viewBox="0 0 9 10"><polyline points="1.500,5.500 4.500,8.500 7.500,5.500"/><line x1="4.500" y1="1.500" x2="4.500" y2="8.500"/></svg>15.12%)</div>
  <div class="t bu-v" style="left:87px;top:149.6px">12,563</div>
  <div class="t r bu-n" style="right:95px;top:149.6px">Opera</div>
  <div class="abs" style="left:25px;top:172.9px;width:400px;height:8px;border-radius:4px;background:#f3f3fa"><div class="abs" style="right:0;top:0;height:8px;width:40%;background:#05c3fb;border-radius:0 4px 4px 0"></div></div>
  <div class="abs" style="left:455px;top:148.0px;width:40px;height:40px;border-radius:50%;background:#f5f5fb"><div class="abs" style="left:10px;top:10px;width:20px;height:20px"><svg width="20" height="20" viewBox="0 0 20 20"><ellipse cx="10" cy="10" rx="6.100" ry="7.200" fill="none" stroke="#e0142c" stroke-width="4.200"/><ellipse cx="10" cy="10" rx="3.300" ry="5.900" fill="#f3f3fa"/></svg></div></div>
  <div class="t bu-p" style="left:25px;top:216.1px;color:#09ad95">(<svg style="display:inline-block;vertical-align:-1px;width:9px;height:10px;fill:none;stroke:#09ad95;stroke-width:1.300;stroke-linecap:round;stroke-linejoin:round" viewBox="0 0 9 10"><polyline points="1.500,5.500 4.500,8.500 7.500,5.500"/><line x1="4.500" y1="1.500" x2="4.500" y2="8.500"/></svg>24.37%)</div>
  <div class="t bu-v" style="left:87px;top:214.6px">25,364</div>
  <div class="t r bu-n" style="right:95px;top:214.6px">IE</div>
  <div class="abs" style="left:25px;top:237.9px;width:400px;height:8px;border-radius:4px;background:#f3f3fa"><div class="abs" style="right:0;top:0;height:8px;width:50%;background:#09ad95;border-radius:0 4px 4px 0"></div></div>
  <div class="abs" style="left:455px;top:213.0px;width:40px;height:40px;border-radius:50%;background:#f5f5fb"><div class="abs" style="left:10px;top:10px;width:20px;height:20px"><svg width="20" height="20" viewBox="0 0 20 20"><text x="11" y="18" text-anchor="middle" font-family="Liberation Sans, sans-serif" font-weight="bold" font-size="29" fill="#1ebbee">e</text><path d="M2 18C-1.500 13 6 3 18 1.500C10 4.500 4 11 4.500 16z" fill="#1ebbee" stroke="#1ebbee" stroke-width="1" stroke-linejoin="round"/></svg></div></div>
  <div class="t bu-p" style="left:25px;top:281.1px;color:#09ad95">(<svg style="display:inline-block;vertical-align:-1px;width:9px;height:10px;fill:none;stroke:#09ad95;stroke-width:1.300;stroke-linecap:round;stroke-linejoin:round" viewBox="0 0 9 10"><polyline points="1.500,5.500 4.500,8.500 7.500,5.500"/><line x1="4.500" y1="1.500" x2="4.500" y2="8.500"/></svg>15.63%)</div>
  <div class="t bu-v" style="left:87px;top:279.6px">14,635</div>
  <div class="t r bu-n" style="right:95px;top:279.6px">Firefox</div>
  <div class="abs" style="left:25px;top:302.9px;width:400px;height:8px;border-radius:4px;background:#f3f3fa"><div class="abs" style="right:0;top:0;height:8px;width:50%;background:#e82646;border-radius:0 4px 4px 0"></div></div>
  <div class="abs" style="left:455px;top:278.0px;width:40px;height:40px;border-radius:50%;background:#f5f5fb"><div class="abs" style="left:10px;top:10px;width:20px;height:20px"><svg width="20" height="20" viewBox="0 0 20 20"><circle cx="10.500" cy="9.500" r="7.500" fill="#2e6fc0"/><circle cx="12" cy="8" r="3" fill="#5fa6e8"/><path d="M10 19.800A9.800 9.800 0 0 1 1.500 5c.5 1 .8 1.500 1.500 2 0-2 1-3.500 2.500-4.500 0 1.500 1 2.500 2.500 3 1.500.5 2 1 1.500 2l-2 1.500c0 1 .8 1.800 2 2 1.500.3 3-.5 4 0-1 2-3 2.500-5 2 2 2 6 2 8-2 .500-1 .800-3 .5-4.500 1 1.500 1.500 3 1.500 4.500A9.800 9.800 0 0 1 10 19.800z" fill="#f0661b"/><path d="M10 19.800A9.800 9.800 0 0 1 2 15c3 3 8 4 12 1.500 2-1.500 3-3.500 3-5.500.500 1 .800 2 1 3A9.800 9.800 0 0 1 10 19.800z" fill="#f8a51f"/></svg></div></div>
  <div class="t bu-p" style="left:25px;top:346.1px;color:#e82646">(<svg style="display:inline-block;vertical-align:-1px;width:9px;height:10px;fill:none;stroke:#e82646;stroke-width:1.300;stroke-linecap:round;stroke-linejoin:round" viewBox="0 0 9 10"><polyline points="1.500,5.500 4.500,8.500 7.500,5.500"/><line x1="4.500" y1="1.500" x2="4.500" y2="8.500"/></svg>23.70%)</div>
  <div class="t bu-v" style="left:87px;top:344.6px">15,453</div>
  <div class="t r bu-n" style="right:95px;top:344.6px">Edge</div>
  <div class="abs" style="left:25px;top:367.9px;width:400px;height:8px;border-radius:4px;background:#f3f3fa"><div class="abs" style="right:0;top:0;height:8px;width:10%;background:#f7b731;border-radius:0 4px 4px 0"></div></div>
  <div class="abs" style="left:455px;top:343.0px;width:40px;height:40px;border-radius:50%;background:#f5f5fb"><div class="abs" style="left:10px;top:10px;width:20px;height:20px"><svg width="20" height="20" viewBox="0 0 20 20"><text x="10.500" y="20" text-anchor="middle" font-family="Liberation Sans, sans-serif" font-weight="bold" font-size="37" fill="#0a78d6">e</text></svg></div></div>
  <div class="t bu-p" style="left:25px;top:411.1px;color:#09ad95">(<svg style="display:inline-block;vertical-align:-1px;width:9px;height:10px;fill:none;stroke:#09ad95;stroke-width:1.300;stroke-linecap:round;stroke-linejoin:round" viewBox="0 0 9 10"><polyline points="1.500,4.500 4.500,1.500 7.500,4.500"/><line x1="4.500" y1="1.500" x2="4.500" y2="8.500"/></svg>11.04%)</div>
  <div class="t bu-v" style="left:87px;top:409.6px">10,054</div>
  <div class="t r bu-n" style="right:95px;top:409.6px">Safari</div>
  <div class="abs" style="left:25px;top:432.9px;width:400px;height:8px;border-radius:4px;background:#f3f3fa"><div class="abs" style="right:0;top:0;height:8px;width:40%;background:#1170e4;border-radius:0 4px 4px 0"></div></div>
  <div class="abs" style="left:455px;top:408.0px;width:40px;height:40px;border-radius:50%;background:#f5f5fb"><div class="abs" style="left:10px;top:10px;width:20px;height:20px"><svg width="20" height="20" viewBox="0 0 20 20"><defs><linearGradient id="sf" x1="0" y1="0" x2="0" y2="1"><stop offset="0" stop-color="#3fa2ee"/><stop offset="1" stop-color="#3c6fd3"/></linearGradient></defs><circle cx="10" cy="10" r="10" fill="url(#sf)"/><polygon points="16.500,3.500 8.800,8.800 11.200,11.200" fill="#f03a3a"/><polygon points="3.500,16.500 8.800,8.800 11.200,11.200" fill="#f2f2f2"/></svg></div></div>
  <div class="t bu-p" style="left:25px;top:476.1px;color:#09ad95">(<svg style="display:inline-block;vertical-align:-1px;width:9px;height:10px;fill:none;stroke:#09ad95;stroke-width:1.300;stroke-linecap:round;stroke-linejoin:round" viewBox="0 0 9 10"><polyline points="1.500,4.500 4.500,1.500 7.500,4.500"/><line x1="4.500" y1="1.500" x2="4.500" y2="8.500"/></svg>12.75%)</div>
  <div class="t bu-v" style="left:87px;top:474.6px">35,502</div>
  <div class="t r bu-n" style="right:95px;top:474.6px">Netscape</div>
  <div class="abs" style="left:25px;top:497.9px;width:400px;height:8px;border-radius:4px;background:#f3f3fa"><div class="abs" style="right:0;top:0;height:8px;width:30%;background:#21d46f;border-radius:0 4px 4px 0"></div></div>
  <div class="abs" style="left:455px;top:473.0px;width:40px;height:40px;border-radius:50%;background:#f5f5fb"><div class="abs" style="left:10px;top:10px;width:20px;height:20px"><svg width="20" height="20" viewBox="0 0 20 20"><defs><clipPath id="nc"><circle cx="10" cy="10" r="10"/></clipPath></defs><g clip-path="url(#nc)"><rect width="20" height="20" fill="#0a7c80"/><rect y="14.600" width="20" height="6" fill="#0b0b0b"/><path d="M0 15.200L20 13.500V15L0 16.200z" fill="#e8f4f4"/></g><text x="10.500" y="14" text-anchor="middle" font-family="Liberation Serif, serif" font-size="14" fill="#fff">N</text></svg></div></div>
</div>
<div class="card" id="c8" style="left:564px;top:826px;width:520px;height:549px">
  <div class="ch"><div class="ct med">Sales Report by Locations with Devices</div></div>
  <svg class="abs" style="left:0;top:0" width="520" height="300"><g fill="#dfe3ea" stroke="#dfe3ea" stroke-width=".800" stroke-linejoin="round"><polygon points="241.6,186.4 240.9,181.0 246.3,178.3 251.7,174.2 248.3,171.5 255.1,167.4 259.8,163.4 263.2,160.7 266.6,162.0 272.0,160.7 278.1,157.3 282.9,153.9 286.2,152.5 285.6,147.1 288.3,141.7 292.3,137.6 297.8,134.9 304.5,132.2 309.9,130.9 314.0,133.6 315.4,128.2 319.4,124.1 323.5,128.2 320.8,136.3 326.2,130.9 328.9,121.4 334.3,113.3 341.1,109.2 347.9,106.5 350.6,104.5 354.6,107.8 358.7,109.2 356.0,114.6 361.4,117.3 368.2,120.0 374.9,121.4 381.7,125.4 388.5,124.1 396.6,126.1 404.7,129.5 412.8,132.2 421.0,132.2 427.7,136.3 431.8,140.3 429.1,143.0 423.7,141.7 418.3,144.4 412.8,147.1 408.8,149.8 408.8,155.2 404.7,162.0 400.7,167.4 400.0,160.7 402.0,155.2 403.4,151.2 399.3,151.2 393.9,155.2 387.1,163.4 385.8,168.8 387.1,174.2 384.4,178.3 381.7,182.3 387.1,179.6 383.1,187.7 377.6,191.8 372.2,194.5 368.2,199.9 364.1,204.0 360.0,208.0 356.0,205.3 354.6,210.7 353.3,214.8 350.6,212.1 348.5,217.5 349.9,222.9 351.2,229.7 348.5,224.3 346.5,217.5 345.1,209.4 342.4,204.0 341.1,199.9 337.0,198.6 333.0,202.6 330.3,209.4 326.2,216.2 323.5,213.5 320.8,208.0 318.1,201.3 312.7,199.9 307.2,198.6 303.2,204.0 299.1,208.0 293.7,212.1 291.0,209.4 288.3,204.0 285.6,198.6 284.2,194.5 281.5,190.4 277.4,187.7 282.9,186.4 289.6,185.0 293.7,181.0 289.6,179.6 284.2,181.0 280.2,178.3 276.1,182.3 272.0,186.4 269.3,182.3 266.6,178.3 265.3,174.2 259.8,171.5 255.1,174.2 253.1,179.6 247.7,181.0 249.0,186.4 245.0,189.1"/><polygon points="255.1,153.9 256.5,148.5 259.8,143.0 263.9,137.6 268.0,132.2 273.4,128.2 278.1,127.5 282.9,130.9 286.9,135.6 289.0,139.0 286.2,141.7 282.9,139.0 279.5,137.0 276.8,140.3 278.1,147.1 280.2,152.5 276.1,153.2 273.4,147.1 271.4,151.8 269.3,155.2 266.6,156.6 263.9,153.2 262.3,157.9 259.2,159.3"/><polygon points="243.6,157.9 246.3,155.2 247.7,160.7 249.7,166.1 246.3,168.8 242.9,167.4 245.0,163.4"/><polygon points="240.2,163.4 242.9,162.0 242.5,166.7 239.8,167.4"/><polygon points="227.4,140.3 232.8,139.0 235.5,141.0 232.8,144.4 228.0,144.4"/><polygon points="260.5,93.0 266.6,88.9 273.4,88.9 274.7,91.6 270.7,95.7 268.0,101.1 265.3,105.8 261.9,99.7"/><polygon points="299.8,125.4 301.8,117.3 305.9,110.6 312.7,107.2 314.7,108.5 308.6,113.3 304.5,120.0 303.2,126.8"/><polygon points="339.1,86.9 341.8,84.8 344.5,88.9 346.5,95.7 349.2,99.0 347.2,100.4 342.4,96.3 339.7,91.6"/><polygon points="382.4,110.6 386.4,109.9 388.5,113.3 384.4,113.9"/><polygon points="387.8,178.3 390.5,176.9 391.2,182.3 385.8,189.1 380.3,191.8 376.3,193.1 379.0,189.1 384.4,186.4"/><polygon points="366.8,208.0 368.2,209.4 366.8,212.1"/><polygon points="365.5,216.2 368.2,217.5 369.5,224.3 366.8,222.9"/><polygon points="343.8,221.6 347.9,225.6 353.3,232.4 351.2,233.1 345.8,227.0"/><polygon points="356.0,224.3 361.4,221.6 363.4,227.0 359.4,229.7 355.3,228.3"/><polygon points="353.3,233.1 362.7,235.1 362.1,236.5 353.3,234.4"/><polygon points="365.5,225.6 368.2,225.0 368.8,231.1 366.1,229.7"/><polygon points="377.6,227.7 383.1,228.3 391.2,233.1 393.9,235.8 388.5,235.1 383.1,233.1 378.3,231.1"/><polygon points="326.9,216.8 328.2,218.9 326.9,220.2"/><polygon points="233.4,209.4 235.5,201.3 239.5,195.9 245.0,190.4 253.1,189.1 261.2,188.4 270.7,189.1 274.7,193.1 282.9,194.5 285.6,199.9 288.3,206.7 292.3,214.8 297.8,215.5 295.0,221.6 289.6,227.0 286.9,232.4 287.6,240.5 282.9,248.7 277.4,256.8 270.7,261.5 267.3,260.8 265.3,252.7 261.9,243.2 259.8,233.8 258.5,224.3 253.1,221.6 245.0,220.9 239.5,220.2 235.5,216.2"/><polygon points="292.3,243.2 296.4,239.2 295.7,245.9 293.0,250.7 291.7,248.7"/><polygon points="359.4,250.0 364.1,245.9 369.5,243.2 374.9,238.5 380.3,238.5 384.4,241.9 387.1,237.8 390.5,244.6 395.2,251.4 397.3,256.8 395.2,263.5 390.5,266.9 385.8,265.6 383.1,260.8 376.3,258.8 369.5,259.5 362.7,261.5 360.7,255.4"/><polygon points="389.8,269.6 392.5,269.6 391.4,272.3"/><polygon points="417.6,265.6 421.0,264.2 419.6,269.0 414.9,273.0 412.8,274.4 415.5,270.3"/><polygon points="410.8,275.7 413.5,274.4 412.2,277.1"/><polygon points="88.4,134.8 93.0,128.6 97.7,126.3 106.9,128.6 113.9,130.9 122.4,130.9 128.6,133.3 137.9,134.8 145.6,133.3 153.4,131.7 159.6,133.3 165.0,136.4 167.3,142.6 164.2,148.7 160.3,151.8 158.0,158.0 162.6,162.7 168.8,164.2 172.7,167.3 173.5,159.6 175.0,151.8 178.1,148.7 182.8,151.8 187.4,156.5 192.0,162.7 195.1,167.3 193.6,170.4 187.4,172.0 182.8,175.0 178.1,179.7 176.6,182.8 173.5,187.4 170.4,192.1 169.6,198.3 167.3,195.2 164.2,192.1 159.6,193.6 155.7,196.7 154.9,201.3 158.0,206.0 161.9,205.2 164.2,207.5 167.3,212.2 171.9,216.0 170.4,216.8 165.7,213.7 161.1,209.9 156.5,207.5 150.3,204.4 145.6,199.8 141.0,195.2 136.3,189.0 131.7,182.8 129.4,176.6 128.6,170.4 125.5,165.8 120.9,158.0 116.2,153.4 110.0,150.3 103.9,151.8 99.2,156.5 93.0,161.1 96.1,154.9 91.5,151.8 89.2,145.6 90.7,141.0 87.6,139.5"/><polygon points="128.6,119.3 133.2,116.2 141.0,117.0 147.2,120.9 153.4,119.3 158.0,122.4 162.6,125.5 159.6,130.2 153.4,130.9 145.6,131.7 137.9,130.9 131.7,127.1"/><polygon points="161.1,79.1 168.8,72.2 178.1,69.8 187.4,71.4 188.2,76.0 184.3,83.8 181.2,91.5 176.6,96.1 171.9,103.9 167.3,107.0 162.6,102.3 160.3,94.6 156.5,89.9 157.2,84.5"/><polygon points="168.8,120.9 175.0,120.1 181.2,125.5 185.9,131.7 189.0,139.5 187.4,144.1 182.8,142.6 178.1,136.4 171.9,130.2"/><polygon points="159.6,110.1 165.7,109.3 171.9,111.6 170.4,114.7 162.6,115.5"/><polygon points="132.5,105.4 136.3,103.1 137.1,107.0 134.0,110.1"/><polygon points="141.0,97.7 144.1,96.1 144.9,101.5 142.2,102.3"/><polygon points="150.3,108.5 154.9,107.0 156.5,112.4 151.8,113.2"/><polygon points="179.7,99.2 184.3,89.9 190.5,80.7 198.2,74.5 207.5,68.3 215.3,66.0 224.5,68.3 230.7,76.0 236.9,82.2 233.8,86.9 229.2,93.0 230.0,102.3 228.4,111.6 226.9,120.9 223.0,128.6 216.8,136.4 212.2,144.1 207.5,151.8 202.9,150.3 199.8,142.6 198.2,133.3 196.7,124.0 193.6,114.7 190.5,108.5 184.3,103.9"/><polygon points="171.9,226.1 175.0,219.9 179.7,215.3 187.4,216.0 193.6,219.1 199.8,223.0 206.0,226.1 212.2,229.2 215.3,233.1 212.9,238.5 209.1,244.7 207.5,250.9 202.9,257.1 199.8,261.7 195.1,266.3 192.0,272.5 189.0,278.7 186.6,284.9 185.1,289.5 182.0,288.0 178.1,283.4 177.3,275.6 178.9,267.9 179.7,260.1 180.4,252.4 177.3,244.7 173.5,236.9 171.2,230.7"/></g><circle cx="146.9" cy="159.8" r="7.400" fill="#fff" fill-opacity=".7"/><circle cx="146.9" cy="159.8" r="6.600" fill="#1170e4" fill-opacity=".5"/><circle cx="146.9" cy="159.8" r="4.300" fill="#1170e4"/><circle cx="151.2" cy="183.3" r="7.400" fill="#fff" fill-opacity=".7"/><circle cx="151.2" cy="183.3" r="6.600" fill="#6c5ffc" fill-opacity=".5"/><circle cx="151.2" cy="183.3" r="4.300" fill="#6c5ffc"/><circle cx="261.4" cy="181.0" r="7.400" fill="#fff" fill-opacity=".7"/><circle cx="261.4" cy="181.0" r="6.600" fill="#e82646" fill-opacity=".5"/><circle cx="261.4" cy="181.0" r="4.300" fill="#e82646"/><circle cx="325.6" cy="205.4" r="7.400" fill="#fff" fill-opacity=".7"/><circle cx="325.6" cy="205.4" r="6.600" fill="#05c3fb" fill-opacity=".5"/><circle cx="325.6" cy="205.4" r="4.300" fill="#05c3fb"/><circle cx="304.8" cy="245.3" r="7.400" fill="#fff" fill-opacity=".7"/><circle cx="304.8" cy="245.3" r="6.600" fill="#f7b731" fill-opacity=".5"/><circle cx="304.8" cy="245.3" r="4.300" fill="#f7b731"/></svg>
  <div class="t th" style="left:7.5px;width:100px;text-align:center;top:313px">Bahrain</div>
  <div class="t th" style="left:112.2px;width:100px;text-align:center;top:313px">India</div>
  <div class="t th" style="left:206.6px;width:100px;text-align:center;top:313px">USA</div>
  <div class="t th r" style="right:12px;top:313px">Device</div>
  <div class="abs" style="left:0;top:343px;width:520px;height:1px;background:#e9edf4"></div>
  <div class="t td" style="left:7.5px;width:100px;text-align:center;top:371.4px">11%</div>
  <div class="t td" style="left:112.2px;width:100px;text-align:center;top:371.4px">22%</div>
  <div class="t td" style="left:206.6px;width:100px;text-align:center;top:371.4px">17%</div>
  <div class="t tn r" style="right:67px;top:369.4px">Mobiles</div>
  <div class="abs" style="left:462px;top:360.9px;width:34px;height:34px;border-radius:50%;background:#ebe9fe"><svg class="ic" style="left:8px;top:8px;width:18px;height:18px;stroke:#6c5ffc;stroke-width:1.900" viewBox="0 0 24 24"><rect x="5" y="2" width="14" height="20" rx="2" ry="2"/><line x1="12" y1="18" x2="12" y2="18"/></svg></div>
  <div class="abs" style="left:0;top:410px;width:520px;height:1px;background:#e9edf4"></div>
  <div class="t td" style="left:7.5px;width:100px;text-align:center;top:438.4px">58%</div>
  <div class="t td" style="left:112.2px;width:100px;text-align:center;top:438.4px">76%</div>
  <div class="t td" style="left:206.6px;width:100px;text-align:center;top:438.4px">34%</div>
  <div class="t tn r" style="right:67px;top:436.4px">Desktops</div>
  <div class="abs" style="left:462px;top:427.9px;width:34px;height:34px;border-radius:50%;background:#e0f7fe"><svg class="ic" style="left:8px;top:8px;width:18px;height:18px;stroke:#05c3fb;stroke-width:1.900" viewBox="0 0 24 24"><rect x="2" y="4" width="20" height="13" rx="2" ry="2"/><path d="M8 21h8l-1.500-3h-5z" fill="#05c3fb"/></svg></div>
  <div class="abs" style="left:0;top:477px;width:520px;height:1px;background:#e9edf4"></div>
  <div class="t td" style="left:7.5px;width:100px;text-align:center;top:505.4px">66%</div>
  <div class="t td" style="left:112.2px;width:100px;text-align:center;top:505.4px">83%</div>
  <div class="t td" style="left:206.6px;width:100px;text-align:center;top:505.4px">56%</div>
  <div class="t tn r" style="right:67px;top:503.4px">Tablets</div>
  <div class="abs" style="left:462px;top:494.9px;width:34px;height:34px;border-radius:50%;background:#fce4e8"><svg class="ic" style="left:8px;top:8px;width:18px;height:18px;stroke:#e82646;stroke-width:1.900" viewBox="0 0 24 24"><rect x="4" y="2" width="16" height="20" rx="2" ry="2"/><line x1="12" y1="18" x2="12" y2="18"/></svg></div>
  <div class="abs" style="left:0;top:544px;width:520px;height:1px;background:#e9edf4"></div>
</div>
<div class="card" id="c9" style="left:1108px;top:826px;width:520px;height:546px">
  <div class="ch"><div class="ct">Daily Activity</div></div>
  <div class="abs" style="left:478.500px;top:94px;width:1px;height:386px;background:#e9edf4"></div>
  <div class="abs" style="left:473px;top:87.9px;width:12px;height:12px;border-radius:50%;background:#6c5ffc"></div>
  <div class="t r" style="right:89px;top:83.9px"><span class="da-t">Task Finished</span><span class="da-d">09 July 2023</span></div>
  <div class="t r da-s" style="right:80px;top:112.4px">Adam Berry finished task on <b>Project Management</b></div>
  <svg class="ic" style="left:24.300px;top:85.1px;width:15px;height:15px;stroke:#74829c;stroke-width:1.900" viewBox="0 0 24 24"><polyline points="3 6 5 6 21 6"/><path d="M19 6l-1 14a2 2 0 0 1-2 2H8a2 2 0 0 1-2-2L5 6m3 0V4a2 2 0 0 1 2-2h4a2 2 0 0 1 2 2v2"/><line x1="10" y1="11" x2="10" y2="17"/><line x1="14" y1="11" x2="14" y2="17"/></svg>
  <svg class="ic" style="left:46.400px;top:84.9px;width:15px;height:15px;stroke:#74829c;stroke-width:1.900" viewBox="0 0 24 24"><path d="M11 4H4a2 2 0 0 0-2 2v14a2 2 0 0 0 2 2h14a2 2 0 0 0 2-2v-7"/><path d="M18.500 2.500a2.120 2.120 0 0 1 3 3L12 15l-4 1 1-4 9.500-9.500z"/></svg>
  <div class="abs" style="left:473px;top:165.0px;width:12px;height:12px;border-radius:50%;background:#05c3fb"></div>
  <div class="t r" style="right:89px;top:161.0px"><span class="da-t">New Comment</span><span class="da-d">05 July 2023</span></div>
  <div class="t r da-s" style="right:80px;top:189.5px">Victoria commented on Project <b>AngularJS Template</b></div>
  <svg class="ic" style="left:24.300px;top:162.2px;width:15px;height:15px;stroke:#74829c;stroke-width:1.900" viewBox="0 0 24 24"><polyline points="3 6 5 6 21 6"/><path d="M19 6l-1 14a2 2 0 0 1-2 2H8a2 2 0 0 1-2-2L5 6m3 0V4a2 2 0 0 1 2-2h4a2 2 0 0 1 2 2v2"/><line x1="10" y1="11" x2="10" y2="17"/><line x1="14" y1="11" x2="14" y2="17"/></svg>
  <svg class="ic" style="left:46.400px;top:162.0px;width:15px;height:15px;stroke:#74829c;stroke-width:1.900" viewBox="0 0 24 24"><path d="M11 4H4a2 2 0 0 0-2 2v14a2 2 0 0 0 2 2h14a2 2 0 0 0 2-2v-7"/><path d="M18.500 2.500a2.120 2.120 0 0 1 3 3L12 15l-4 1 1-4 9.500-9.500z"/></svg>
  <div class="abs" style="left:473px;top:241.7px;width:12px;height:12px;border-radius:50%;background:#09ad95"></div>
  <div class="t r" style="right:89px;top:237.7px"><span class="da-t">New Comment</span><span class="da-d">25 June 2023</span></div>
  <div class="t r da-s" style="right:80px;top:266.2px">Victoria commented on Project <b>AngularJS Template</b></div>
  <svg class="ic" style="left:24.300px;top:238.9px;width:15px;height:15px;stroke:#74829c;stroke-width:1.900" viewBox="0 0 24 24"><polyline points="3 6 5 6 21 6"/><path d="M19 6l-1 14a2 2 0 0 1-2 2H8a2 2 0 0 1-2-2L5 6m3 0V4a2 2 0 0 1 2-2h4a2 2 0 0 1 2 2v2"/><line x1="10" y1="11" x2="10" y2="17"/><line x1="14" y1="11" x2="14" y2="17"/></svg>
  <svg class="ic" style="left:46.400px;top:238.7px;width:15px;height:15px;stroke:#74829c;stroke-width:1.900" viewBox="0 0 24 24"><path d="M11 4H4a2 2 0 0 0-2 2v14a2 2 0 0 0 2 2h14a2 2 0 0 0 2-2v-7"/><path d="M18.500 2.500a2.120 2.120 0 0 1 3 3L12 15l-4 1 1-4 9.500-9.500z"/></svg>
  <div class="abs" style="left:473px;top:319.5px;width:12px;height:12px;border-radius:50%;background:#f7b731"></div>
  <div class="t r" style="right:89px;top:315.5px"><span class="da-t">Task Overdue</span><span class="da-d">14 June 2023</span></div>
  <div class="t r da-s" style="right:80px;top:344.0px">Petey Cruiser finished task <b>Integrated management</b></div>
  <svg class="ic" style="left:24.300px;top:316.7px;width:15px;height:15px;stroke:#74829c;stroke-width:1.900" viewBox="0 0 24 24"><polyline points="3 6 5 6 21 6"/><path d="M19 6l-1 14a2 2 0 0 1-2 2H8a2 2 0 0 1-2-2L5 6m3 0V4a2 2 0 0 1 2-2h4a2 2 0 0 1 2 2v2"/><line x1="10" y1="11" x2="10" y2="17"/><line x1="14" y1="11" x2="14" y2="17"/></svg>
  <svg class="ic" style="left:46.400px;top:316.5px;width:15px;height:15px;stroke:#74829c;stroke-width:1.900" viewBox="0 0 24 24"><path d="M11 4H4a2 2 0 0 0-2 2v14a2 2 0 0 0 2 2h14a2 2 0 0 0 2-2v-7"/><path d="M18.500 2.500a2.120 2.120 0 0 1 3 3L12 15l-4 1 1-4 9.500-9.500z"/></svg>
  <div class="abs" style="left:473px;top:396.6px;width:12px;height:12px;border-radius:50%;background:#e82646"></div>
  <div class="t r" style="right:89px;top:392.6px"><span class="da-t">Task Overdue</span><span class="da-d">29 June 2023</span></div>
  <div class="t r da-s" style="right:80px;top:421.1px">Petey Cruiser finished task <b>Integrated management</b></div>
  <svg class="ic" style="left:24.300px;top:393.8px;width:15px;height:15px;stroke:#74829c;stroke-width:1.900" viewBox="0 0 24 24"><polyline points="3 6 5 6 21 6"/><path d="M19 6l-1 14a2 2 0 0 1-2 2H8a2 2 0 0 1-2-2L5 6m3 0V4a2 2 0 0 1 2-2h4a2 2 0 0 1 2 2v2"/><line x1="10" y1="11" x2="10" y2="17"/><line x1="14" y1="11" x2="14" y2="17"/></svg>
  <svg class="ic" style="left:46.400px;top:393.6px;width:15px;height:15px;stroke:#74829c;stroke-width:1.900" viewBox="0 0 24 24"><path d="M11 4H4a2 2 0 0 0-2 2v14a2 2 0 0 0 2 2h14a2 2 0 0 0 2-2v-7"/><path d="M18.500 2.500a2.120 2.120 0 0 1 3 3L12 15l-4 1 1-4 9.500-9.500z"/></svg>
  <div class="abs" style="left:473px;top:473.7px;width:12px;height:12px;border-radius:50%;background:#1170e4"></div>
  <div class="t r" style="right:89px;top:469.7px"><span class="da-t">Task Finished</span><span class="da-d">09 July 2023</span></div>
  <div class="t r da-s" style="right:80px;top:498.2px">Adam Berry finished task on <b>Project Management</b></div>
  <svg class="ic" style="left:24.300px;top:470.9px;width:15px;height:15px;stroke:#74829c;stroke-width:1.900" viewBox="0 0 24 24"><polyline points="3 6 5 6 21 6"/><path d="M19 6l-1 14a2 2 0 0 1-2 2H8a2 2 0 0 1-2-2L5 6m3 0V4a2 2 0 0 1 2-2h4a2 2 0 0 1 2 2v2"/><line x1="10" y1="11" x2="10" y2="17"/><line x1="14" y1="11" x2="14" y2="17"/></svg>
  <svg class="ic" style="left:46.400px;top:470.7px;width:15px;height:15px;stroke:#74829c;stroke-width:1.900" viewBox="0 0 24 24"><path d="M11 4H4a2 2 0 0 0-2 2v14a2 2 0 0 0 2 2h14a2 2 0 0 0 2-2v-7"/><path d="M18.500 2.500a2.120 2.120 0 0 1 3 3L12 15l-4 1 1-4 9.500-9.500z"/></svg>
</div>

<!-- ================= ROW 4 ================= -->
<div class="card" id="c10" style="left:20px;top:1399px;width:1608px;height:300px">
  <div class="abs" style="left:0;top:63px;width:1608px;height:1px;background:#e9edf4"></div>
  <div class="t r med" style="right:24px;top:23.300px;font-size:16px;color:#282f53">Product Sales</div>
  <div class="t" style="left:44px;top:25.300px;font-size:16.300px;-webkit-text-stroke:.200px;color:#282f53">Cancelled</div>
  <div class="t" style="left:156.8px;top:25.300px;font-size:16.300px;-webkit-text-stroke:.200px;color:#282f53">Pending</div>
  <div class="t" style="left:255.8px;top:25.300px;font-size:16.300px;-webkit-text-stroke:.200px;color:#282f53">Shipped</div>
  <div class="t" style="left:356.6px;top:25.300px;font-size:16.300px;-webkit-text-stroke:.200px;color:#6c5ffc">All products</div>
  <div class="abs" style="left:25px;top:91px;width:185px;height:40px;border:1px solid #e9edf4;border-radius:6px"></div>
  <div class="t r" style="left:60px;width:135px;top:105px;font-size:13px;color:#a9b0c4">...Search</div>
  <div class="t" style="left:1548.500px;top:102px;font-size:14px;color:#282f53">Show</div>
  <div class="abs" style="left:1475px;top:90px;width:65px;height:41px;border:1px solid #e9edf4;border-radius:6px"></div>
  <div class="t" style="left:1505px;top:102px;font-size:14px;color:#282f53">10</div>
  <div class="abs" style="left:1486px;top:107px;width:0;height:0;border-left:4.500px solid transparent;border-right:4.500px solid transparent;border-top:5px solid #5b6e88"></div>
  <div class="t" style="left:1422.500px;top:102px;font-size:14px;color:#282f53">Entries</div>
  <div class="abs" style="left:25px;top:147px;width:1558px;height:10px;border:1px solid #e9edf4;border-bottom:0"></div>
  <div class="abs" style="left:178.0px;top:147px;width:1px;height:10px;background:#e9edf4"></div>
  <div class="abs" style="left:347.5px;top:147px;width:1px;height:10px;background:#e9edf4"></div>
  <div class="abs" style="left:568.4px;top:147px;width:1px;height:10px;background:#e9edf4"></div>
  <div class="abs" style="left:726.6px;top:147px;width:1px;height:10px;background:#e9edf4"></div>
  <div class="abs" style="left:894.3px;top:147px;width:1px;height:10px;background:#e9edf4"></div>
  <div class="abs" style="left:1117.8px;top:147px;width:1px;height:10px;background:#e9edf4"></div>
  <div class="abs" style="left:1414.4px;top:147px;width:1px;height:10px;background:#e9edf4"></div>
</div>

</body>
</html>
